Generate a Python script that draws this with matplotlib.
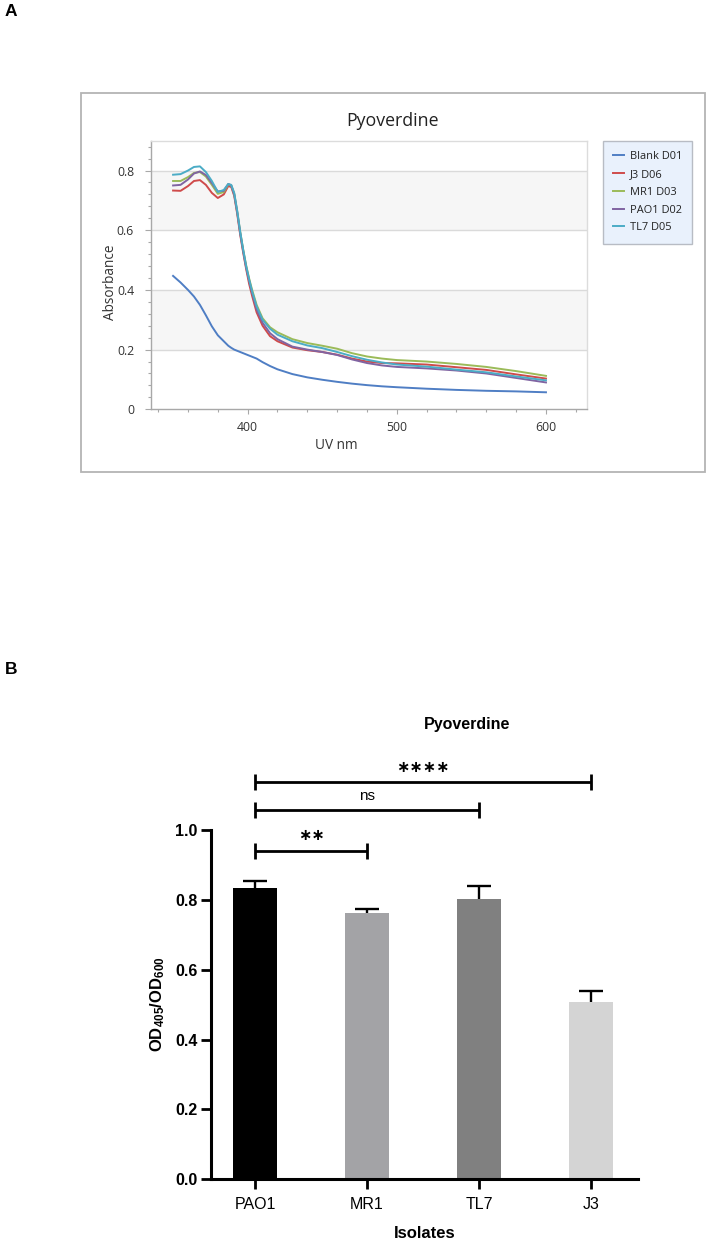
import matplotlib
matplotlib.use("Agg")
import matplotlib.pyplot as plt
from matplotlib.patches import Rectangle
import numpy as np

# ---------------- Panel A data ----------------
wavelength = [350, 355, 360, 364, 368, 372, 376, 380, 384, 387, 389, 391, 393, 395, 397,
              399, 401, 403, 406, 410, 415, 420, 430, 440, 450, 460, 470, 480, 490, 500,
              520, 540, 560, 580, 600]
blank_d01 = [0.447, 0.425, 0.400, 0.378, 0.350, 0.315, 0.278, 0.248, 0.228, 0.213, 0.206,
             0.200, 0.196, 0.192, 0.188, 0.184, 0.180, 0.176, 0.170, 0.158, 0.145, 0.134,
             0.118, 0.107, 0.099, 0.092, 0.086, 0.081, 0.077, 0.074, 0.069, 0.065, 0.062,
             0.060, 0.057]
j3_d06 = [0.733, 0.732, 0.748, 0.765, 0.768, 0.752, 0.725, 0.708, 0.720, 0.748, 0.745,
          0.715, 0.655, 0.585, 0.525, 0.470, 0.420, 0.380, 0.325, 0.280, 0.245, 0.228,
          0.207, 0.198, 0.192, 0.183, 0.170, 0.160, 0.155, 0.154, 0.150, 0.141, 0.132,
          0.117, 0.103]
mr1_d03 = [0.765, 0.765, 0.778, 0.792, 0.795, 0.780, 0.752, 0.722, 0.728, 0.753, 0.750,
           0.722, 0.662, 0.595, 0.535, 0.482, 0.438, 0.400, 0.350, 0.305, 0.275, 0.258,
           0.235, 0.222, 0.213, 0.203, 0.188, 0.177, 0.170, 0.165, 0.160, 0.152, 0.142,
           0.128, 0.112]
pao1_d02 = [0.750, 0.752, 0.770, 0.790, 0.797, 0.785, 0.758, 0.730, 0.732, 0.755, 0.750,
            0.720, 0.660, 0.590, 0.530, 0.475, 0.430, 0.390, 0.335, 0.290, 0.255, 0.235,
            0.210, 0.200, 0.192, 0.182, 0.167, 0.155, 0.147, 0.142, 0.137, 0.130, 0.120,
            0.105, 0.090]
tl7_d05 = [0.786, 0.788, 0.800, 0.812, 0.814, 0.795, 0.765, 0.728, 0.735, 0.755, 0.752,
           0.725, 0.665, 0.595, 0.535, 0.480, 0.435, 0.395, 0.345, 0.300, 0.270, 0.250,
           0.228, 0.214, 0.205, 0.192, 0.178, 0.166, 0.157, 0.150, 0.143, 0.133, 0.124,
           0.110, 0.097]
series_labels = ["Blank D01", "J3 D06", "MR1 D03", "PAO1 D02", "TL7 D05"]
series_values = [blank_d01, j3_d06, mr1_d03, pao1_d02, tl7_d05]
series_colors = ["#4f7ec4", "#cf4b4b", "#9bbb59", "#8064a2", "#4bacc6"]

# ---------------- Panel B data ----------------
isolates = ["PAO1", "MR1", "TL7", "J3"]
od_ratio = [0.834, 0.762, 0.802, 0.508]
od_err = [0.021, 0.011, 0.037, 0.032]
bar_colors = ["#000000", "#a3a3a6", "#808080", "#d4d4d4"]
sig_pairs = [(0, 1), (0, 2), (0, 3)]
sig_labels = ["**", "ns", "****"]
sig_heights = [0.941, 1.056, 1.137]

W, H = 710, 1244
fig = plt.figure(figsize=(W / 100, H / 100), dpi=100)
plt.rcParams["mathtext.fontset"] = "custom"
plt.rcParams["mathtext.rm"] = "Liberation Sans"
plt.rcParams["mathtext.bf"] = "Liberation Sans:bold"

def fx(px):
    return px / W

def fy(py):
    return 1 - py / H

# ---------------- Panel A ----------------
topfont = "Open Sans"
fig.add_artist(Rectangle((fx(81), fy(472)), fx(705) - fx(81), fy(93) - fy(472),
                         transform=fig.transFigure, fill=False, edgecolor="#b4b4b4",
                         linewidth=1.3))
axA = fig.add_axes([fx(150.7), fy(409.3), fx(587) - fx(150.7), fy(140.7) - fy(409.3)])
axA.set_xlim(335, 627.5)
axA.set_ylim(0, 0.9)
axA.axhspan(0.2, 0.4, color="#f6f6f6", zorder=0, lw=0)
axA.axhspan(0.6, 0.8, color="#f6f6f6", zorder=0, lw=0)
for g in [0.2, 0.4, 0.6, 0.8]:
    axA.axhline(g, color="#dadada", lw=1.0, zorder=1)
for lab, vals, col in zip(series_labels, series_values, series_colors):
    axA.plot(wavelength, vals, color=col, lw=1.4, label=lab, zorder=3)
axA.set_xticks([400, 500, 600])
axA.set_xticks(np.arange(340, 621, 20), minor=True)
axA.set_yticks([0, 0.2, 0.4, 0.6, 0.8])
axA.set_yticklabels(["0", "0.2", "0.4", "0.6", "0.8"])
axA.set_yticks(np.arange(0, 0.9, 0.04), minor=True)
for side in ["top", "right"]:
    axA.spines[side].set_color("#dcdcdc")
for side in ["left", "bottom"]:
    axA.spines[side].set_color("#a8a8a8")
for sp in axA.spines.values():
    sp.set_linewidth(1.0)
axA.tick_params(axis="both", which="both", colors="#a8a8a8", labelcolor="#333333",
                labelsize=8.8, width=0.8)
axA.tick_params(axis="y", which="major", length=4, pad=8)
axA.tick_params(axis="y", which="minor", length=2.5)
axA.tick_params(axis="x", which="major", length=3.5, pad=5)
axA.tick_params(axis="x", which="minor", length=2.5)
for t in axA.get_xticklabels() + axA.get_yticklabels():
    t.set_fontfamily(topfont)
axA.text(0.426, -0.135, "UV nm", transform=axA.transAxes, ha="center", va="center",
         fontsize=9.8, color="#333333", family=topfont)
axA.text(-0.091, 0.472, "Absorbance", transform=axA.transAxes, ha="center", va="center",
         rotation=90, fontsize=9.8, color="#333333", family=topfont)
fig.text(fx(393), fy(121), "Pyoverdine", ha="center", va="center", fontsize=12.8,
         color="#222222", family=topfont)
leg = axA.legend(loc="upper left", bbox_to_anchor=(fx(602.7), fy(140.7)),
                 bbox_transform=fig.transFigure, borderaxespad=0, frameon=True,
                 fancybox=False, handlelength=1.0, handletextpad=0.5, labelspacing=0.62,
                 borderpad=0.95, prop={"family": topfont, "size": 7.9})
leg.get_frame().set_facecolor("#e4eefc")
leg.get_frame().set_edgecolor("#a9aeb6")
leg.get_frame().set_linewidth(1.0)
for t in leg.get_texts():
    t.set_color("#222222")

fig.text(fx(11), fy(12), "A", ha="center", va="center", fontsize=12.5, fontweight="bold",
         family="Liberation Sans")

# ---------------- Panel B ----------------
botfont = "Liberation Sans"
axB = fig.add_axes([fx(210.7), fy(1179.3), fx(638) - fx(210.7), fy(830) - fy(1179.3)])
xpos = np.arange(len(isolates))
axB.bar(xpos, od_ratio, width=0.4, color=bar_colors, zorder=2)
tops = [v + e for v, e in zip(od_ratio, od_err)]
axB.vlines(xpos, od_ratio, tops, color="black", lw=1.7, zorder=3)
axB.hlines(tops, xpos - 0.107, xpos + 0.107, color="black", lw=1.7, zorder=3)
axB.set_xlim(-0.396, 3.42)
axB.set_ylim(0, 1.0)
axB.set_yticks([0, 0.2, 0.4, 0.6, 0.8, 1.0])
axB.set_yticklabels(["0.0", "0.2", "0.4", "0.6", "0.8", "1.0"])
axB.set_xticks(xpos)
axB.set_xticklabels(isolates)
for side in ["top", "right"]:
    axB.spines[side].set_visible(False)
for side in ["left", "bottom"]:
    axB.spines[side].set_linewidth(2.2)
axB.tick_params(axis="y", length=7.5, width=2.0, labelsize=11.5, pad=2)
axB.tick_params(axis="x", length=7, width=2.0, labelsize=11.5, pad=6)
for t in axB.get_yticklabels():
    t.set_fontfamily(botfont)
    t.set_fontweight("bold")
for t in axB.get_xticklabels():
    t.set_fontfamily(botfont)
axB.set_xlabel("Isolates", fontsize=12, fontweight="bold", family=botfont, labelpad=10)
axB.set_ylabel(r"$\mathbf{OD_{405}/OD_{600}}$", fontsize=12, labelpad=6)

for (a, b), lab, h in zip(sig_pairs, sig_labels, sig_heights):
    axB.plot([a, b], [h, h], color="black", lw=2.0, clip_on=False, solid_capstyle="butt")
    for xe in (a, b):
        axB.plot([xe, xe], [h - 0.023, h + 0.023], color="black", lw=2.0, clip_on=False,
                 solid_capstyle="butt")
    if lab == "ns":
        axB.text((a + b) / 2, h + 0.04, lab, ha="center", va="center", fontsize=11,
                 family=botfont, clip_on=False)
    else:
        stars = "\u2217" * len(lab)
        axB.text((a + b) / 2, h + 0.043, stars, ha="center", va="center", fontsize=11.5,
                 fontweight="bold", family="DejaVu Sans", clip_on=False)

fig.text(fx(467), fy(724), "Pyoverdine", ha="center", va="center", fontsize=11.5,
         fontweight="bold", family=botfont)
fig.text(fx(11), fy(669.5), "B", ha="center", va="center", fontsize=12.5, fontweight="bold",
         family=botfont)

fig.savefig("out.png", dpi=100)
